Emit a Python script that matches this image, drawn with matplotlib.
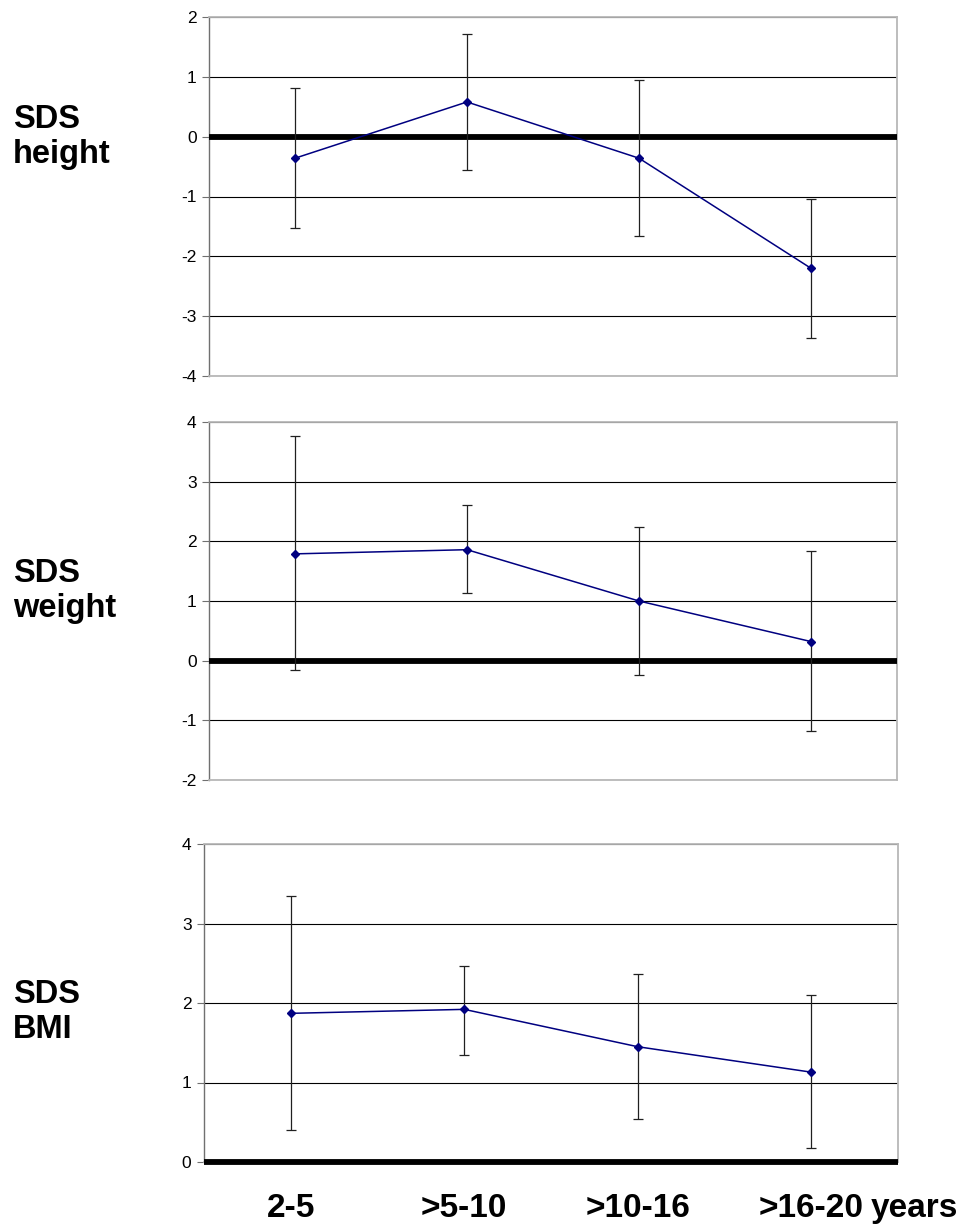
import matplotlib
matplotlib.use("Agg")
import matplotlib.pyplot as plt
import numpy as np

plt.rcParams['font.family'] = ['Liberation Sans', 'DejaVu Sans']
plt.rcParams['axes.unicode_minus'] = False

# age groups
groups = ["2-5", ">5-10", ">10-16", ">16-20"]

# SDS height: mean, lower and upper end of error bar
height_mean = [-0.36, 0.58, -0.36, -2.20]
height_low = [-1.52, -0.56, -1.66, -3.36]
height_high = [0.82, 1.72, 0.94, -1.04]

# SDS weight
weight_mean = [1.79, 1.86, 1.00, 0.32]
weight_low = [-0.16, 1.13, -0.24, -1.18]
weight_high = [3.76, 2.61, 2.24, 1.83]

# SDS BMI
bmi_mean = [1.87, 1.92, 1.45, 1.13]
bmi_low = [0.40, 1.35, 0.54, 0.17]
bmi_high = [3.35, 2.47, 2.36, 2.10]

W, H = 962, 1231
fig = plt.figure(figsize=(W / 100, H / 100), dpi=100)


def panel(box, mean, low, high, ylim, label, label_y):
    l, t, r, b = box
    ax = fig.add_axes([l / W, 1 - b / H, (r - l) / W, (b - t) / H])
    x = np.arange(len(mean)) + 0.5
    mean = np.array(mean)
    yerr = [mean - np.array(low), np.array(high) - mean]
    ax.errorbar(x, mean, yerr=yerr, fmt='none', ecolor='#202020',
                elinewidth=0.9, capsize=3.8, capthick=0.9, zorder=3)
    ax.plot(x, mean, color='#000080', lw=1.1, marker='D', ms=4.5,
            zorder=4)
    ax.axhline(0, color='black', lw=4.2, zorder=2.7, clip_on=False,
               solid_capstyle='butt')
    ax.set_xlim(0, 4)
    ax.set_ylim(*ylim)
    ax.set_yticks(range(ylim[0], ylim[1] + 1))
    ax.yaxis.grid(True, color='black', lw=0.8, zorder=1)
    ax.set_axisbelow(True)
    for s in ['top', 'right', 'bottom']:
        ax.spines[s].set_color('#b8b8b8')
        ax.spines[s].set_linewidth(1.3)
    ax.spines['left'].set_color('#707070')
    ax.spines['left'].set_linewidth(1.0)
    ax.tick_params(axis='y', direction='out', length=5, color='#707070',
                   labelsize=12.5, pad=4)
    ax.tick_params(axis='x', length=0)
    ax.set_xticks(x)
    ax.set_xticklabels([])
    fig.text(13 / W, 1 - label_y / H, label, fontsize=23.5,
             fontweight='bold', ha='left', va='center', linespacing=1.2)
    return ax


panel((209, 17, 897, 376), height_mean, height_low, height_high,
      (-4, 2), "SDS\nheight", 137)
panel((209, 422, 897, 780), weight_mean, weight_low, weight_high,
      (-2, 4), "SDS\nweight", 591)
ax3 = panel((204, 844, 898, 1162), bmi_mean, bmi_low, bmi_high,
            (0, 4), "SDS\nBMI", 1012)

ax3.set_xticklabels(groups, fontsize=24, fontweight='bold')
ax3.tick_params(axis='x', pad=22)
last = ax3.get_xticklabels()[-1]
ax3.annotate("years", xy=(1, 0), xycoords=last, xytext=(5, 0),
             textcoords='offset points', ha='left', va='bottom',
             fontsize=24, fontweight='bold')

fig.savefig("out.png", dpi=100)
